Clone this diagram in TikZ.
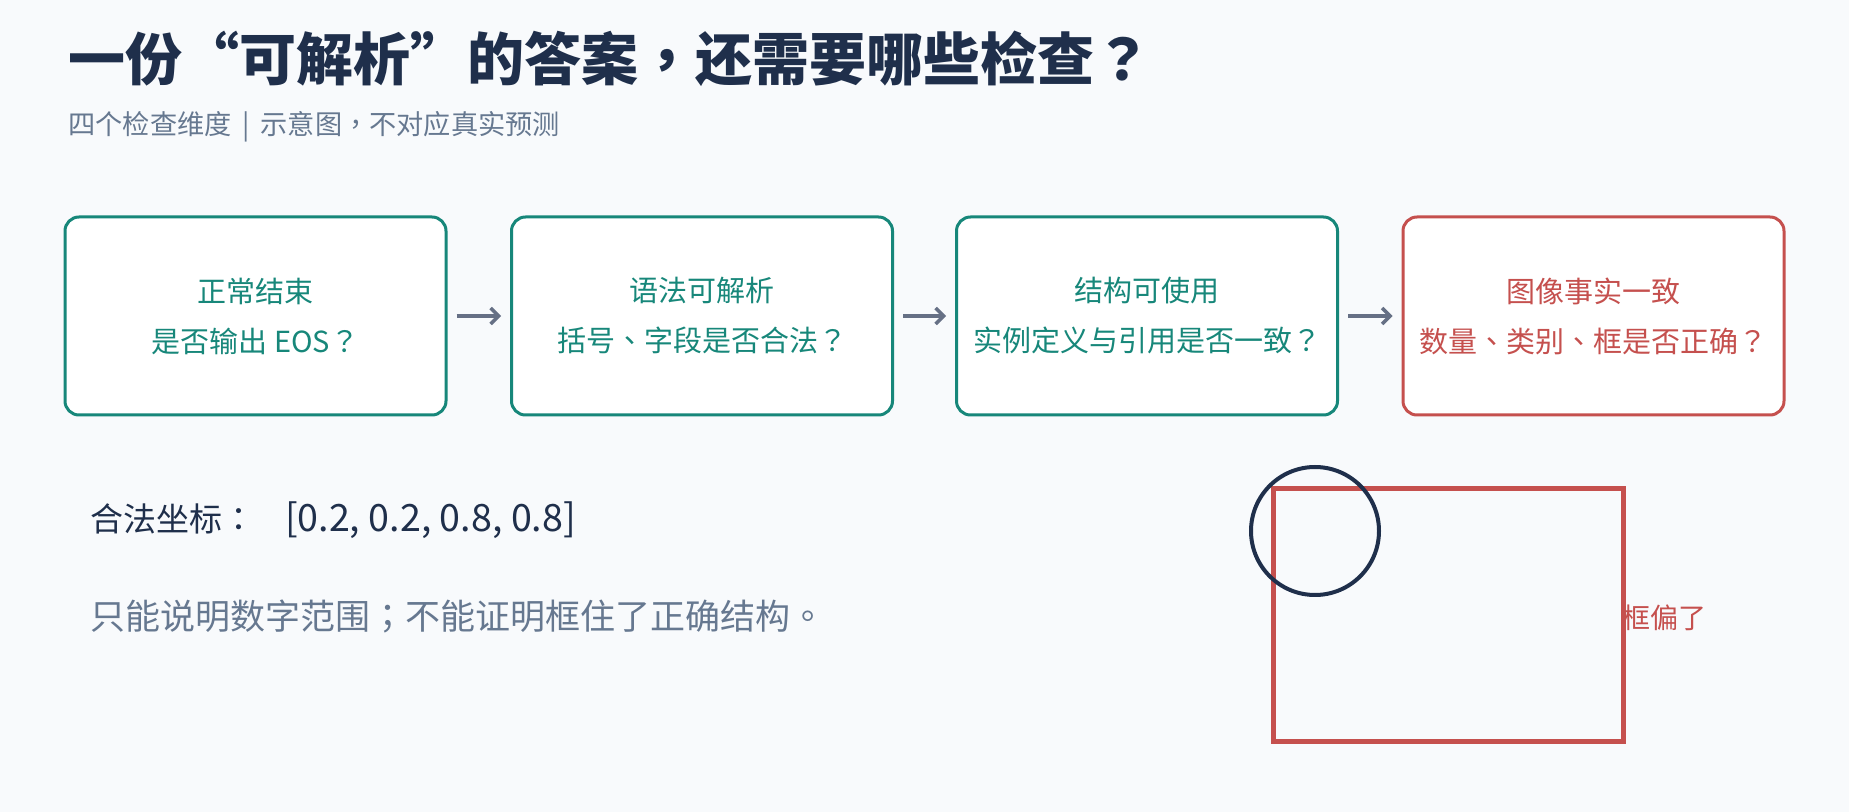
\documentclass[tikz,border=0pt]{standalone}
\usepackage{fontspec}
\setmainfont{Noto Sans CJK SC}
\newfontfamily\tcpunct{Noto Sans CJK TC}
\newcommand\pnq{{\tcpunct ？}}
\newcommand\pnc{{\tcpunct ，}}
\newcommand\pnd{{\tcpunct 、}}
\newcommand\pns{{\tcpunct ；}}
\newcommand\pnco{{\tcpunct ：}}
\newcommand\pnp{{\tcpunct 。}}
\usetikzlibrary{arrows.meta}
\definecolor{bgc}{HTML}{F8FAFC}
\definecolor{navy}{HTML}{1F2F4B}
\definecolor{slate}{HTML}{667890}
\definecolor{teal}{HTML}{17877A}
\definecolor{redc}{HTML}{C5504E}
\definecolor{arrowc}{HTML}{667085}
\tikzset{
  checkbox/.style={draw=teal, line width=1.5pt, rounded corners=7pt, fill=white,
    minimum width=190.5pt, minimum height=99pt, align=center, text=teal,
    font=\fontsize{14.5}{25}\selectfont},
  factbox/.style={checkbox, draw=redc, text=redc},
  flow/.style={draw=arrowc, line width=1.75pt, -{Straight Barb[length=4pt,width=8pt]}, shorten <=4.5pt, shorten >=4.5pt}
}
\begin{document}
\begin{tikzpicture}[x=0.5pt,y=-0.5pt]
\fill[bgc] (0,0) rectangle (1849,812);
\useasboundingbox (0,0) rectangle (1849,812);
\node[anchor=west, inner sep=0pt, font=\fontsize{28.5}{34}\selectfont\bfseries, text=navy] (title) at (68,59) {一份“可解析”的答案\pnc 还需要哪些检查\pnq};
\node[anchor=west, inner sep=0pt, font=\fontsize{13.6}{16}\selectfont, text=slate] (sub) at (68,127) {四个检查维度\hspace{0.4em}|\hspace{0.4em}示意图\pnc 不对应真实预测};

\node[checkbox] (b1) at (255.5,316) {正常结束\\是否输出 EOS\pnq};
\node[checkbox] (b2) at (702,316) {语法可解析\\括号\pnd 字段是否合法\pnq};
\node[checkbox] (b3) at (1147,316) {结构可使用\\实例定义与引用是否一致\pnq};
\node[factbox] (b4) at (1593.5,316) {图像事实一致\\数量\pnd 类别\pnd 框是否正确\pnq};
\draw[flow] (b1) -- (b2);
\draw[flow] (b2) -- (b3);
\draw[flow] (b3) -- (b4);

\node[anchor=west, inner sep=0pt, font=\fontsize{16.5}{20}\selectfont, text=navy] (coord) at (90,520) {合法坐标\pnco\hspace{0.9em}{\fontsize{18.8}{20}\selectfont [0.2, 0.2, 0.8, 0.8]}};
\node[anchor=west, inner sep=0pt, font=\fontsize{17.5}{20}\selectfont, text=slate] (note) at (90,616) {只能说明数字范围\pns 不能证明框住了正确结构\pnp};

\draw[redc, line width=2.5pt] (1273,489) rectangle (1623,741);
\draw[navy, line width=2pt] (1315,531) circle[radius=32pt];
\node[anchor=west, inner sep=0pt, font=\fontsize{14}{18}\selectfont, text=redc] (off) at (1622,618) {框偏了};
\end{tikzpicture}
\end{document}
